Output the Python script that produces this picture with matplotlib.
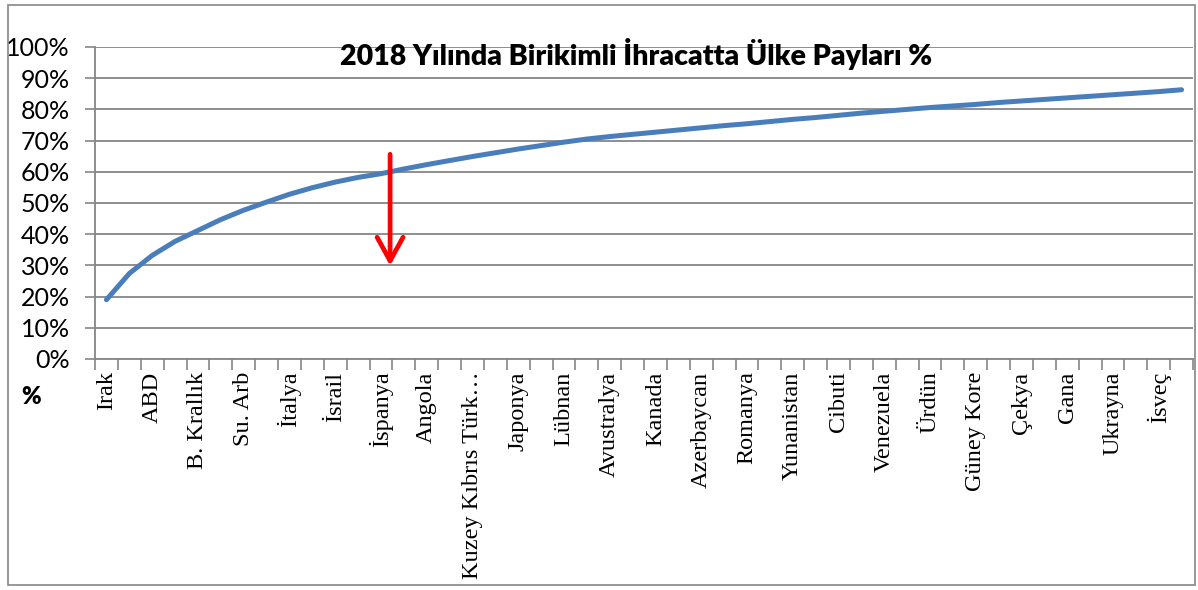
import matplotlib
matplotlib.use("Agg")
import matplotlib.pyplot as plt
from matplotlib.patches import Rectangle
import numpy as np

# cumulative export share per country (%)
values = [19.0, 27.4, 33.2, 37.7, 41.2, 44.7, 47.7, 50.3, 52.8, 54.9, 56.7, 58.2,
          59.4, 60.9, 62.3, 63.6, 64.9, 66.1, 67.3, 68.4, 69.5, 70.5,
          71.3, 72.0, 72.7, 73.4, 74.1, 74.8, 75.4, 76.1, 76.8, 77.4,
          78.1, 78.8, 79.4, 80.0, 80.6, 81.1, 81.6, 82.2, 82.7, 83.2,
          83.7, 84.2, 84.7, 85.2, 85.7, 86.3]

# only every second category label is shown on the axis
shown_labels = ["Irak", "ABD", "B. Krallık", "Su. Arb", "İtalya", "İsrail",
                "İspanya", "Angola", "Kuzey Kıbrıs Türk…", "Japonya", "Lübnan",
                "Avustralya", "Kanada", "Azerbaycan", "Romanya", "Yunanistan",
                "Cibuti", "Venezuela", "Ürdün", "Güney Kore", "Çekya", "Gana",
                "Ukrayna", "İsveç"]
yticks = [0, 10, 20, 30, 40, 50, 60, 70, 80, 90, 100]

title = "2018 Yılında Birikimli İhracatta Ülke Payları %"
sans = ["Lato", "DejaVu Sans"]
serif = ["Liberation Serif", "DejaVu Serif"]
grid_col = "#868686"

W, H = 1198, 590
fig = plt.figure(figsize=(W / 100, H / 100), dpi=100)

# outer chart frame
fig.patches.append(Rectangle((8 / W, 5 / H), 1187 / W, 580 / H, transform=fig.transFigure,
                             fill=False, edgecolor=grid_col, linewidth=1.2))

ax = fig.add_axes([95 / W, 1 - 359 / H, 1098 / W, 312 / H])

x = np.arange(len(values))
ax.plot(x, values, color="#4A7EBB", linewidth=3.6, solid_capstyle="round", zorder=3)

ax.set_xlim(-0.5, len(values) - 0.5)
ax.set_ylim(0, 100)

ax.set_yticks(yticks)
ax.set_yticklabels([f"{v}%" for v in yticks], family=sans, fontsize=18)
ax.tick_params(axis="y", length=7, width=1.2, color=grid_col, pad=11)
ax.grid(axis="y", color=grid_col, linewidth=1.3)
ax.set_axisbelow(True)

ax.set_xticks(np.arange(0, len(values), 2))
ax.set_xticklabels(shown_labels, rotation=90, family=serif, fontsize=17.5, va="top")
ax.set_xticks(np.arange(-0.5, len(values), 1), minor=True)
ax.tick_params(axis="x", which="major", length=0, pad=9)
ax.tick_params(axis="x", which="minor", length=8, width=1.2, color=grid_col)

for side in ["top", "right"]:
    ax.spines[side].set_visible(False)
for side in ["left", "bottom"]:
    ax.spines[side].set_color(grid_col)
    ax.spines[side].set_linewidth(1.3)

# red arrow pointing down at İspanya
isp = shown_labels.index("İspanya") * 2
ax.annotate("", xy=(isp + 0.4, 29), xytext=(isp + 0.4, 66.5),
            arrowprops=dict(arrowstyle="->,head_length=1.0,head_width=0.55",
                            mutation_scale=17, color="#FF0000", lw=3.4),
            zorder=4)

fig.text(636 / W, 1 - 54 / H, title, family=sans, fontsize=20.5, fontweight="heavy",
         ha="center", va="center")
fig.text(31 / W, 1 - 397 / H, "%", family=sans, fontsize=17, fontweight="heavy",
         ha="center", va="center")

fig.savefig("out.png", dpi=100)
